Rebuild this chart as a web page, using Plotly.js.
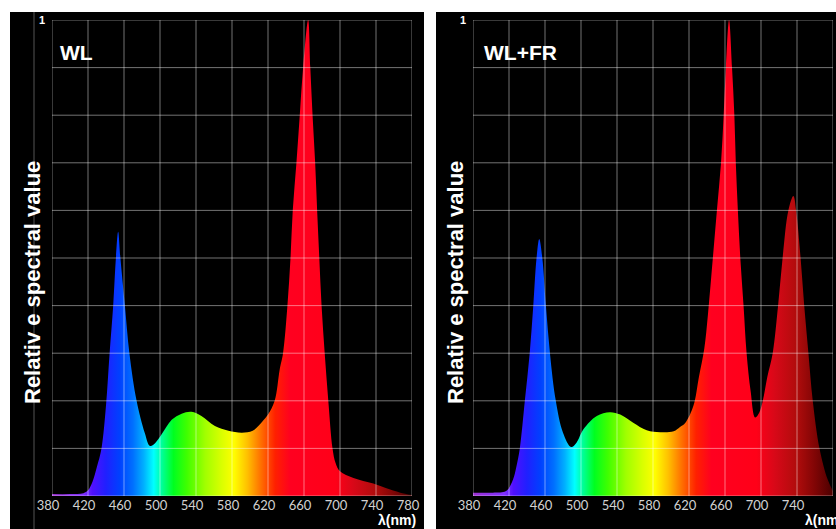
<!DOCTYPE html>
<html>
<head>
<meta charset="utf-8">
<script src="https://cdn.plot.ly/plotly-3.0.1.min.js"></script>
<style>html,body{margin:0;padding:0;background:#fff;}#chart{width:836px;height:529px;}</style>
</head>
<body>
<div id="chart"></div>
<script>
// ---- data ----
const panelTitles = ["WL", "WL+FR"];
const yTitle = "Relativ e spectral value";
const xUnit = "λ(nm)";

const xTicks = [380, 420, 460, 500, 540, 580, 620, 660, 700, 740, 780];
const xTickText = ["380", "420", "460", "500", "540", "580", "620", "660", "700", "740", "780"];
const yTicks = [0, 0.1, 0.2, 0.3, 0.4, 0.5, 0.6, 0.7, 0.8, 0.9, 1];
const yTickText = ["", "", "", "", "", "", "", "", "", "", "1"];

// WL spectrum (wavelength nm, relative value)
const wlNm  = [380, 400, 415, 420, 425, 430, 435, 440, 444, 448, 451, 453.5, 456, 461, 466, 474, 483, 489, 495, 502, 513, 524, 535, 546, 561, 576, 591, 603, 614, 620, 627.4, 633, 636.7, 641.6, 645, 647.5, 651.6, 655.3, 659, 664.6, 667, 669.5, 672.4, 674.6, 677, 679.5, 683, 687, 691.7, 695, 700, 715, 737, 755, 767, 780];
const wlVal = [0.004, 0.004, 0.006, 0.012, 0.03, 0.062, 0.1, 0.19, 0.3, 0.4, 0.5, 0.555, 0.5, 0.4, 0.3, 0.2, 0.133, 0.105, 0.112, 0.13, 0.16, 0.173, 0.177, 0.168, 0.147, 0.137, 0.133, 0.137, 0.157, 0.171, 0.2, 0.266, 0.3, 0.4, 0.5, 0.6, 0.7, 0.8, 0.9, 1.0, 0.9, 0.8, 0.7, 0.6, 0.5, 0.4, 0.3, 0.2, 0.1, 0.07, 0.052, 0.038, 0.026, 0.014, 0.007, 0.002];

// WL+FR spectrum
const frNm  = [380, 400, 415, 419, 424.6, 428, 432, 437.6, 443, 447, 450.6, 453.6, 457, 461, 465.5, 472, 480, 489, 495, 502.7, 517.5, 532, 543.6, 558, 573, 588, 603, 610, 616, 625, 631, 637, 641, 646.5, 651, 655.6, 658.5, 661, 664.5, 667.8, 670.4, 672, 674.3, 677, 680.6, 684, 688.5, 693.5, 698, 702, 707, 713, 719, 724, 730.4, 736, 739, 744, 748, 752.7, 757.5, 765, 774, 780];
const frVal = [0.007, 0.007, 0.009, 0.014, 0.035, 0.06, 0.1, 0.2, 0.3, 0.4, 0.5, 0.54, 0.5, 0.4, 0.3, 0.2, 0.133, 0.103, 0.112, 0.14, 0.168, 0.176, 0.171, 0.154, 0.138, 0.134, 0.136, 0.145, 0.154, 0.19, 0.25, 0.31, 0.38, 0.5, 0.6, 0.7, 0.8, 0.9, 1.0, 0.9, 0.8, 0.7, 0.6, 0.5, 0.4, 0.3, 0.22, 0.165, 0.175, 0.2, 0.25, 0.3, 0.4, 0.5, 0.6, 0.63, 0.6, 0.5, 0.4, 0.3, 0.2, 0.1, 0.035, 0.01];

// ---- style ----
const W = 836, H = 529;
const specStops  = [380, 415, 425, 440, 455, 470, 482, 493, 503, 515, 530, 550, 568, 582, 597, 612, 628, 645, 695, 715, 740, 760, 780];
const specColors = ["#9b30d0", "#8030ff", "#5010ff", "#2020ff", "#0040ff", "#0070ff", "#00b0ff", "#00ffff", "#00ff90", "#00ff20", "#40ff00", "#a0ff00", "#d8ff00", "#ffff00", "#ffc000", "#ff7000", "#ff2000", "#ff0020", "#ff0018", "#d80818", "#b00c0c", "#800505", "#4a0000"];
const colorscale = specStops.map((s, i) => [(s - 380) / 400, specColors[i]]);

const gridColor = "rgba(255,255,255,0.45)";
const yDom = [33 / H, 509 / H];
const doms = [[52 / W, 412 / W], [473 / W, 833 / W]];

function trace(xs, ys, ax) {
  return {
    type: "scatter", mode: "lines", x: xs, y: ys,
    xaxis: ax.x, yaxis: ax.y,
    line: {width: 0, shape: "spline", smoothing: 1.0, color: "rgba(0,0,0,0)"},
    fill: "tozeroy",
    fillgradient: {type: "horizontal", start: 380, stop: 780, colorscale: colorscale},
    hoverinfo: "skip", showlegend: false
  };
}

const data = [
  trace(wlNm, wlVal, {x: "x", y: "y"}),
  trace(frNm, frVal, {x: "x2", y: "y2"})
];

function xAxis(dom, anchor) {
  return {
    domain: dom, anchor: anchor, range: [380, 780], fixedrange: true,
    showgrid: false, zeroline: false, showline: false, ticks: "",
    tickmode: "array", tickvals: xTicks, ticktext: xTickText,
    tickfont: {family: "Lato, 'Open Sans', sans-serif", size: 13, color: "#d2d2d2"},
    ticklabelshift: -4, ticklabelstandoff: 0
  };
}
function yAxis(anchor) {
  return {
    domain: yDom, anchor: anchor, range: [0, 1], fixedrange: true,
    showgrid: false, zeroline: false, showline: false, ticks: "",
    tickmode: "array", tickvals: yTicks, ticktext: yTickText,
    tickfont: {family: "Liberation Sans, Arial, sans-serif", size: 11, color: "#ffffff", weight: "bold"},
    ticklabelstandoff: 6
  };
}

const shapes = [
  {type: "rect", xref: "paper", yref: "paper", x0: 10 / W, x1: 424 / W, y0: 0, y1: (H - 12) / H, fillcolor: "#000", line: {width: 0}, layer: "below"},
  {type: "rect", xref: "paper", yref: "paper", x0: 436 / W, x1: 1, y0: 0, y1: (H - 12) / H, fillcolor: "#000", line: {width: 0}, layer: "below"},
  {type: "line", xref: "paper", yref: "paper", x0: 34 / W, x1: 34 / W, y0: 0, y1: (H - 12) / H, line: {color: "#555", width: 1}, layer: "below"}
];
[["x", "y"], ["x2", "y2"]].forEach(([xa, ya]) => {
  xTicks.forEach(v => shapes.push({type: "line", xref: xa, yref: ya + " domain", x0: v, x1: v, y0: 0, y1: 1, layer: "above", line: {color: gridColor, width: 1}}));
  yTicks.forEach(v => shapes.push({type: "line", xref: xa + " domain", yref: ya, x0: 0, x1: 1, y0: v, y1: v, layer: "above", line: {color: gridColor, width: 1}}));
});

const boldFont = (size) => ({family: "Liberation Sans, Arial, sans-serif", size: size, color: "#ffffff", weight: "bold"});
const annotations = [
  {text: panelTitles[0], xref: "paper", yref: "paper", x: 58 / W, y: (H - 52) / H, xanchor: "left", yanchor: "middle", showarrow: false, font: boldFont(21)},
  {text: panelTitles[1], xref: "paper", yref: "paper", x: 482 / W, y: (H - 52) / H, xanchor: "left", yanchor: "middle", showarrow: false, font: boldFont(21)},
  {text: yTitle, xref: "paper", yref: "paper", x: 32 / W, y: (H - 283) / H, xanchor: "center", yanchor: "middle", textangle: -90, showarrow: false, font: boldFont(22)},
  {text: yTitle, xref: "paper", yref: "paper", x: 455 / W, y: (H - 283) / H, xanchor: "center", yanchor: "middle", textangle: -90, showarrow: false, font: boldFont(22)},
  {text: xUnit, xref: "paper", yref: "paper", x: 418 / W, y: (H - 520) / H, xanchor: "right", yanchor: "middle", showarrow: false, font: boldFont(14)},
  {text: xUnit, xref: "paper", yref: "paper", x: 803 / W, y: (H - 520) / H, xanchor: "left", yanchor: "middle", showarrow: false, font: boldFont(14)}
];

const layout = {
  width: W, height: H, autosize: false,
  margin: {l: 0, r: 0, t: 0, b: 0, pad: 0},
  paper_bgcolor: "#ffffff", plot_bgcolor: "#000000",
  showlegend: false,
  xaxis: xAxis(doms[0], "y"), yaxis: yAxis("x"),
  xaxis2: xAxis(doms[1], "y2"), yaxis2: yAxis("x2"),
  shapes: shapes, annotations: annotations
};

Plotly.newPlot("chart", data, layout, {staticPlot: true, displayModeBar: false});
</script>
</body>
</html>
